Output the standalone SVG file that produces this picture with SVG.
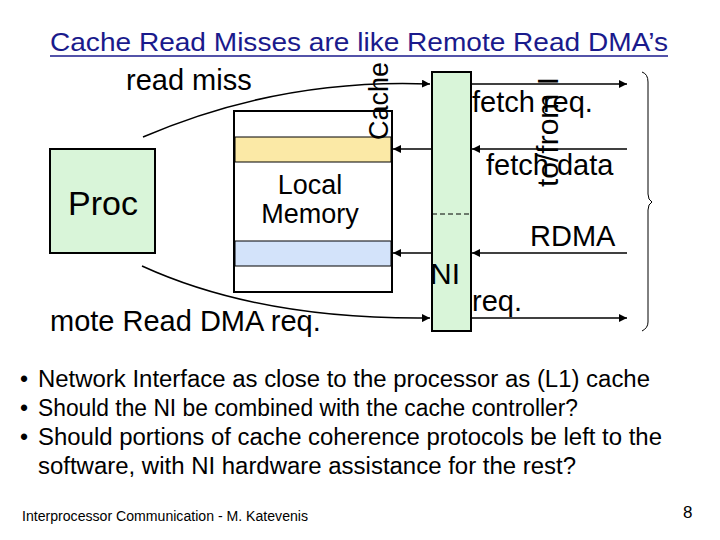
<svg xmlns="http://www.w3.org/2000/svg" width="720" height="540" viewBox="0 0 720 540">
<defs>
<style>
text{font-family:"Liberation Sans",Arial,sans-serif;fill:#000}
.lbl{font-size:29px}
.ln{stroke:#000;stroke-width:1.5;fill:none}
.bul{font-size:23px}
</style>
<marker id="ah" viewBox="0 0 10 10" refX="10" refY="5" markerWidth="8" markerHeight="8" orient="auto" markerUnits="userSpaceOnUse"><path d="M0,0L10,5L0,10z" fill="#000"/></marker>
</defs>
<rect width="720" height="540" fill="#fff"/>
<text x="50" y="51" font-size="26" style="fill:#1a1a8c" textLength="618" lengthAdjust="spacingAndGlyphs">Cache Read Misses are like Remote Read DMA’s</text>
<line x1="50" y1="56" x2="668" y2="56" stroke="#1a1a8c" stroke-width="1.5"/>
<g id="proc"><rect x="50" y="149" width="105" height="104" fill="#d9f5d9" stroke="#000" stroke-width="2"/><text x="103" y="215" font-size="34" text-anchor="middle">Proc</text></g>
<g id="memory"><rect x="234" y="111" width="158" height="181" fill="#fff" stroke="#000" stroke-width="2"/>
<rect x="235" y="137" width="156" height="25" fill="#fbe9a6" stroke="#000" stroke-width="1"/>
<rect x="235" y="241" width="156" height="25" fill="#d3e3fa" stroke="#000" stroke-width="1"/>
<text x="310" y="194" font-size="27" text-anchor="middle">Local</text><text x="310" y="223" font-size="27" text-anchor="middle">Memory</text></g>
<g id="ni"><rect x="432" y="72" width="39" height="259" fill="#d9f5d9" stroke="#000" stroke-width="2"/>
<line x1="432" y1="214" x2="471" y2="214" stroke="#000" stroke-dasharray="5,3"/>
<text x="430" y="284" font-size="30">NI</text></g>
<g id="cache-label"><text transform="translate(388,140) rotate(-90)" font-size="27">Cache</text></g>
<g id="tofrom"><text transform="translate(558,187) rotate(-90)" font-size="30">to/from I</text></g>
<g id="connectors">
<path class="ln" d="M143,137 Q280,78 430,84" marker-end="url(#ah)"/>
<path class="ln" d="M142,266 Q260,320 430,318" marker-end="url(#ah)"/>
<line class="ln" x1="471" y1="84" x2="627" y2="84" marker-end="url(#ah)"/>
<line class="ln" x1="627" y1="149" x2="472" y2="149" marker-end="url(#ah)"/>
<line class="ln" x1="431" y1="149" x2="393" y2="149" marker-end="url(#ah)"/>
<line class="ln" x1="627" y1="253" x2="472" y2="253" marker-end="url(#ah)"/>
<line class="ln" x1="431" y1="253" x2="393" y2="253" marker-end="url(#ah)"/>
<line class="ln" x1="471" y1="318" x2="627" y2="318" marker-end="url(#ah)"/>
<path d="M642,72 Q648,74 648,82 L648,194 Q648,200 652,202 Q648,204 648,210 L648,322 Q648,328 642,331" fill="none" stroke="#000" stroke-width="1"/>
</g>
<text class="lbl" x="126" y="90">read miss</text>
<text class="lbl" x="472" y="112">fetch req.</text>
<text class="lbl" x="486" y="175">fetch data</text>
<text class="lbl" x="530" y="246">RDMA</text>
<text class="lbl" x="472" y="311">req.</text>
<text class="lbl" x="50" y="331">mote Read DMA req.</text>
<g class="bul">
<text class="bul" x="20" y="387">•</text><text class="bul" x="38" y="387" textLength="612" lengthAdjust="spacingAndGlyphs">Network Interface as close to the processor as (L1) cache</text>
<text class="bul" x="20" y="416">•</text><text class="bul" x="38" y="416" textLength="540" lengthAdjust="spacingAndGlyphs">Should the NI be combined with the cache controller?</text>
<text class="bul" x="20" y="445">•</text><text class="bul" x="38" y="445" textLength="624" lengthAdjust="spacingAndGlyphs">Should portions of cache coherence protocols be left to the</text>
<text class="bul" x="38" y="474" textLength="538" lengthAdjust="spacingAndGlyphs">software, with NI hardware assistance for the rest?</text>
</g>
<text x="22" y="521" font-size="14" textLength="286" lengthAdjust="spacingAndGlyphs">Interprocessor Communication - M. Katevenis</text>
<text x="683" y="518" font-size="17">8</text>
</svg>
